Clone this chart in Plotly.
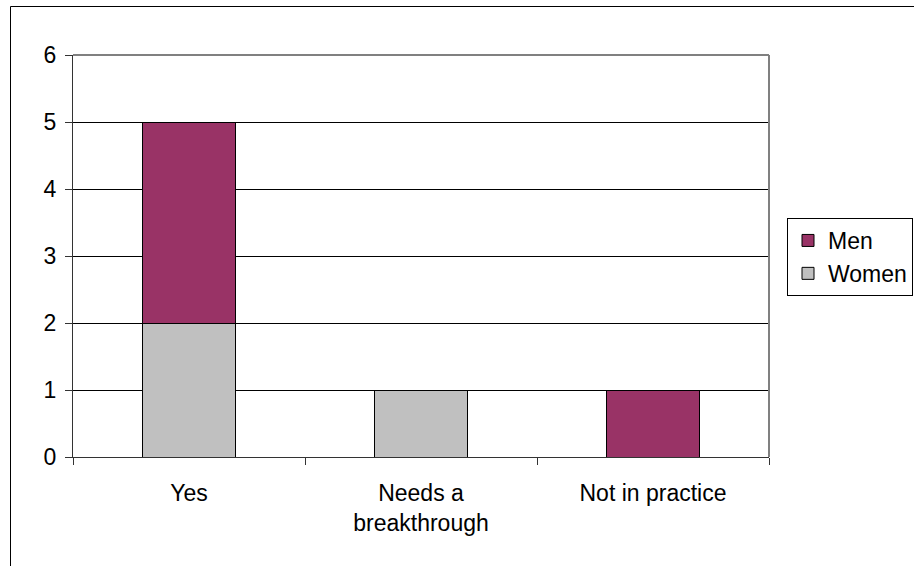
import plotly.graph_objects as go

categories = ["Yes", "Needs a<br>breakthrough", "Not in practice"]
women = [2, 1, 0]
men = [3, 0, 1]
y_ticks = [0, 1, 2, 3, 4, 5, 6]

W, H = 914, 566
L, R, T, B = 73, 145, 55, 109
pw, ph = W - L - R, H - T - B

def px_x(x):
    return (x - L) / pw

def px_y(y):
    return (H - B - y) / ph

fig = go.Figure()
fig.add_trace(go.Bar(x=categories, y=women, name="Women",
                     marker=dict(color="#C0C0C0", line=dict(color="black", width=1))))
fig.add_trace(go.Bar(x=categories, y=men, name="Men",
                     marker=dict(color="#993366", line=dict(color="black", width=1))))

fig.update_layout(
    width=W, height=H,
    margin=dict(l=L, r=R, t=T, b=B, autoexpand=False),
    barmode="stack",
    bargap=0.595,
    plot_bgcolor="white",
    paper_bgcolor="white",
    font=dict(family="Liberation Sans, Arial, sans-serif", size=23, color="black"),
    showlegend=True,
    legend=dict(
        x=px_x(787), y=px_y(218), xanchor="left", yanchor="top",
        bordercolor="black", borderwidth=1, bgcolor="white",
        traceorder="reversed", font=dict(size=23),
        itemwidth=30, tracegroupgap=0,
    ),
    shapes=[
        dict(type="rect", xref="paper", yref="paper",
             x0=px_x(10.5), x1=px_x(930), y0=px_y(6.5), y1=px_y(580),
             line=dict(color="black", width=1), fillcolor="rgba(0,0,0,0)",
             layer="below"),
        dict(type="line", xref="paper", yref="paper", x0=0, x1=1, y0=1, y1=1,
             line=dict(color="#808080", width=2)),
        dict(type="line", xref="paper", yref="paper", x0=1, x1=1, y0=0, y1=1,
             line=dict(color="#808080", width=2)),
    ],
)

fig.update_xaxes(
    type="category",
    showline=True, linecolor="#333333", linewidth=1,
    ticks="outside", ticklen=7, tickcolor="#333333", tickson="boundaries",
    showgrid=False,
    tickfont=dict(size=23),
    ticklabelstandoff=15,
)
fig.update_yaxes(
    range=[0, 6],
    tickvals=y_ticks,
    showline=True, linecolor="#333333", linewidth=1,
    ticks="outside", ticklen=7, tickcolor="#333333",
    showgrid=True, gridcolor="black", gridwidth=1,
    zeroline=False,
    tickfont=dict(size=23),
    ticklabelstandoff=4,
)

fig.write_html("out.html")
